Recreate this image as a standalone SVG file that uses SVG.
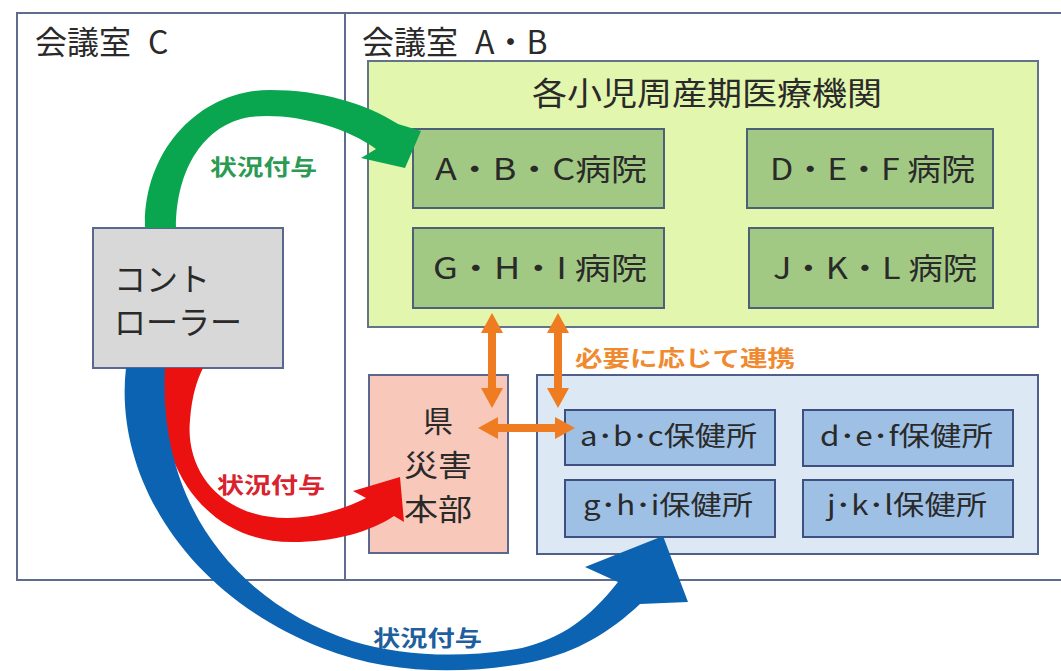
<svg xmlns="http://www.w3.org/2000/svg" width="1061" height="671" viewBox="0 0 1061 671">
<style>
  text { font-family: "Noto Sans CJK JP", "Noto Sans", sans-serif; fill: #2a2a2a; }
  .room { fill: #ffffff; stroke: #5f6d8c; stroke-width: 2; }
  .rtitle { font-size: 32px; }
  .hosp { fill: #a2c983; stroke: #4e5f78; stroke-width: 2; }
  .htext { font-size: 30px; }
  .hc { fill: #9fc0e5; stroke: #3f4f82; stroke-width: 2; }
  .hctext { font-size: 27px; }
  .hq { font-size: 30px; text-anchor: middle; }
  .lbl { font-size: 22px; font-weight: bold; }
  .orange { fill: #f07c22; }
</style>
<rect width="1061" height="671" fill="#ffffff"/>

<g id="roomC">
  <rect class="room" x="17" y="13" width="328" height="567"/>
  <text class="rtitle" x="35" y="54">会議室<tspan x="148">C</tspan></text>
</g>
<g id="roomAB">
  <rect class="room" x="345" y="13" width="740" height="567"/>
  <text class="rtitle" x="362" y="54">会議室<tspan x="475">A・B</tspan></text>
</g>

<g id="medical">
  <rect x="368" y="61" width="670" height="266" fill="#e3f6ad" stroke="#637389" stroke-width="2"/>
  <text x="532" y="105" font-size="32" textLength="350" lengthAdjust="spacingAndGlyphs">各小児周産期医療機関</text>
</g>
<g id="hospABC">
  <rect class="hosp" x="413" y="129" width="251" height="79"/>
  <text class="htext" x="435" y="180" textLength="212" lengthAdjust="spacingAndGlyphs">A・B・C病院</text>
</g>
<g id="hospDEF">
  <rect class="hosp" x="747" y="129" width="246" height="79"/>
  <text class="htext" x="770" y="180" textLength="205" lengthAdjust="spacingAndGlyphs">D・E・F 病院</text>
</g>
<g id="hospGHI">
  <rect class="hosp" x="413" y="228" width="251" height="80"/>
  <text class="htext" x="433" y="279" textLength="214" lengthAdjust="spacingAndGlyphs">G・H・I 病院</text>
</g>
<g id="hospJKL">
  <rect class="hosp" x="749" y="228" width="244" height="80"/>
  <text class="htext" x="773" y="279" textLength="204" lengthAdjust="spacingAndGlyphs">J・K・L 病院</text>
</g>

<g id="controller">
  <rect x="93" y="228" width="190" height="140" fill="#d8d8d8" stroke="#5a6890" stroke-width="2"/>
  <text x="114" y="291" font-size="32">コント</text>
  <text x="114" y="334" font-size="32">ローラー</text>
</g>

<g id="hq">
  <rect x="369" y="375" width="139" height="178" fill="#f8c9bb" stroke="#5a6890" stroke-width="2"/>
  <text class="hq" x="438" y="432">県</text>
  <text class="hq" x="438" y="476" textLength="68" lengthAdjust="spacingAndGlyphs">災害</text>
  <text class="hq" x="438" y="520" textLength="68" lengthAdjust="spacingAndGlyphs">本部</text>
</g>

<g id="healthCenters">
  <rect x="537" y="375" width="501" height="179" fill="#dde8f5" stroke="#4f5f8a" stroke-width="2"/>
</g>
<g id="hcABC">
  <rect class="hc" x="565" y="410" width="210" height="55"/>
  <text class="hctext" x="580" y="446" textLength="177" lengthAdjust="spacingAndGlyphs">a･b･c保健所</text>
</g>
<g id="hcDEF">
  <rect class="hc" x="803" y="410" width="210" height="56"/>
  <text class="hctext" x="820" y="446" textLength="173" lengthAdjust="spacingAndGlyphs">d･e･f保健所</text>
</g>
<g id="hcGHI">
  <rect class="hc" x="565" y="480" width="210" height="57"/>
  <text class="hctext" x="583" y="515" textLength="170" lengthAdjust="spacingAndGlyphs">g･h･i保健所</text>
</g>
<g id="hcJKL">
  <rect class="hc" x="803" y="480" width="210" height="57"/>
  <text class="hctext" x="827" y="515" textLength="160" lengthAdjust="spacingAndGlyphs">j･k･l保健所</text>
</g>

<g id="connectors">
  <!-- green curved arrow -->
  <path fill="#0aa64f" d="M145,228 C143,150 200,90 270,90 C320,90 365,103 398,124 L421,131 L405,168 L361,158 L376,149 C345,126 290,112 250,117 C205,124 176,168 176,228 Z"/>
  <!-- red curved arrow -->
  <path fill="#ec1111" d="M164,368 C150,440 190,542 292,542 C335,542 370,532 394,516 L404,522 L400,477 L353,491 L366,498 C340,511 312,518 287,518 C222,518 185,472 190,420 C192,395 197,380 203,368 Z"/>
  <!-- blue curved arrow -->
  <path fill="#0b63b2" d="M126,368 C114,470 180,592 322,648 C392,676 470,674 532,662 C578,652 610,632 640,604 L688,602 L663,536 L585,567 L618,582 C590,618 562,638 522,648 C462,659 402,656 352,641 C232,601 158,500 165,368 Z"/>

  <!-- orange double arrows -->
  <g class="orange">
    <polygon points="492,313 503,333 496,333 496,388 503,388 492,408 481,388 488,388 488,333 481,333"/>
    <polygon points="558,313 569,333 562,333 562,388 569,388 558,408 547,388 554,388 554,333 547,333"/>
    <polygon points="478,428 498,417 498,424 555,424 555,417 575,428 555,439 555,432 498,432 498,439"/>
  </g>

  <text class="lbl" x="210" y="175" style="fill:#2b9a52" textLength="107" lengthAdjust="spacingAndGlyphs">状況付与</text>
  <text class="lbl" x="217" y="493" style="fill:#d9232e" textLength="108" lengthAdjust="spacingAndGlyphs">状況付与</text>
  <text class="lbl" x="373" y="646" style="fill:#1f5f9e" textLength="109" lengthAdjust="spacingAndGlyphs">状況付与</text>
  <text class="lbl" x="575" y="366" style="fill:#f08a30" textLength="220" lengthAdjust="spacingAndGlyphs">必要に応じて連携</text>
</g>
</svg>
